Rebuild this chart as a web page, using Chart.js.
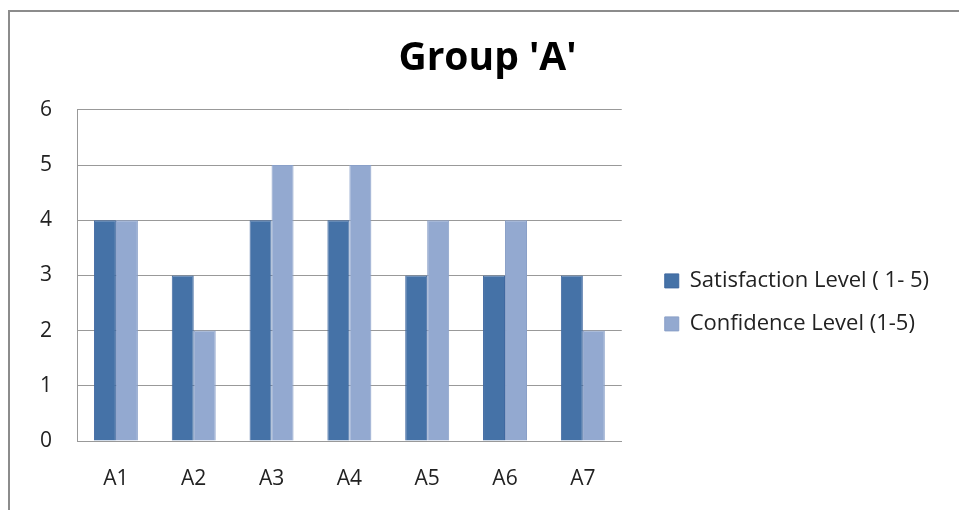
<!DOCTYPE html>
<html>
<head>
<meta charset="utf-8">
<script src="https://cdn.jsdelivr.net/npm/chart.js@4"></script>
<style>
  html, body { margin: 0; padding: 0; background: #fff; }
  #wrap  { position: relative; width: 959px; height: 510px; }
  #frame { position: absolute; left: 8px; top: 10px; right: 0; bottom: 0;
           border-left: 2px solid #8c8c8c; border-top: 2px solid #8c8c8c; pointer-events: none; }
</style>
</head>
<body>
<div id="wrap">
  <canvas id="chart" width="959" height="510"></canvas>
  <div id="frame"></div>
</div>
<script>
// ── Data ───────────────────────────────────────
const categories   = ['A1', 'A2', 'A3', 'A4', 'A5', 'A6', 'A7'];
const satisfaction = [4, 3, 4, 4, 3, 3, 3];
const confidence   = [4, 2, 5, 5, 4, 4, 2];
const yTicks       = [0, 1, 2, 3, 4, 5, 6];

const FONT = "'Open Sans', 'DejaVu Sans', sans-serif";

// nudge legend + title into place (Excel-style layout)
const boxShift = {
  id: 'boxShift',
  afterLayout(chart) {
    const lg = chart.legend;
    if (lg) {
      lg.left += 22; lg.right = chart.width;   // legend clips to its box, so widen it
      lg.top  += 27; lg.bottom += 27;
    }
    const tt = chart.titleBlock;
    if (tt) { tt.left += 73; tt.right += 73; }
  }
};

new Chart(document.getElementById('chart'), {
  type: 'bar',
  data: {
    labels: categories,
    datasets: [
      { label: 'Satisfaction Level ( 1- 5)', data: satisfaction,
        backgroundColor: '#4572A7', borderColor: '#3F68A0', borderWidth: 1 },
      { label: 'Confidence Level (1-5)', data: confidence,
        backgroundColor: '#93A9D0', borderColor: '#8AA0C8', borderWidth: 1 }
    ]
  },
  options: {
    responsive: false,
    animation: false,
    layout: { padding: { left: 0, right: 130, top: 0, bottom: 0 } },
    datasets: { bar: { barPercentage: 1, categoryPercentage: 0.565 } },
    plugins: {
      title: {
        display: true,
        text: "Group 'A'",
        color: '#000',
        font: { family: FONT, size: 39, weight: 'bold' },
        padding: { top: 35, bottom: 28 }
      },
      legend: {
        position: 'right',
        fullSize: false,
        labels: {
          color: '#222',
          font: { family: FONT, size: 22 },
          boxWidth: 14, boxHeight: 14,
          padding: 21
        }
      },
      tooltip: { enabled: false }
    },
    scales: {
      x: {
        afterFit: axis => { axis.height = 69; },
        grid: { display: false, drawTicks: false },
        border: { display: true, color: '#999', width: 1 },
        ticks: { color: '#222', font: { family: FONT, size: 21 }, padding: 25 }
      },
      y: {
        min: 0, max: 6,
        afterFit: axis => { axis.width = 77; },
        afterBuildTicks: axis => { axis.ticks = yTicks.map(v => ({ value: v })); },
        grid: { color: '#999', lineWidth: 1, drawTicks: false },
        border: { display: true, color: '#999', width: 1 },
        ticks: { color: '#222', font: { family: FONT, size: 21 }, padding: 25 }
      }
    }
  },
  plugins: [boxShift]
});
</script>
</body>
</html>
